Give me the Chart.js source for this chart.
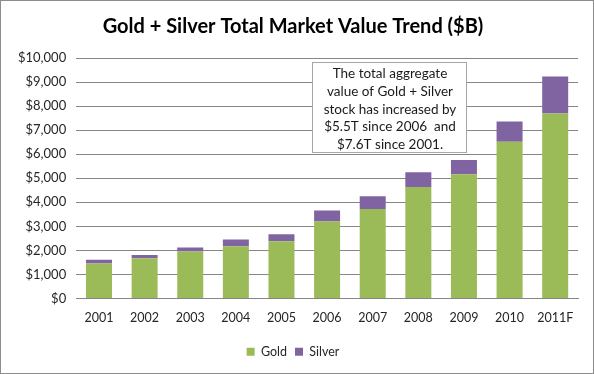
<!DOCTYPE html>
<html>
<head>
<meta charset="utf-8">
<script src="https://cdn.jsdelivr.net/npm/chart.js@4/dist/chart.umd.min.js"></script>
<style>
  html, body { margin: 0; padding: 0; background: #fff; }
  #wrap { width: 594px; height: 374px; }
</style>
</head>
<body>
<div id="wrap"><canvas id="marketChart" width="594" height="374"></canvas></div>
<script>
// values in $B
const years = ['2001', '2002', '2003', '2004', '2005', '2006', '2007', '2008', '2009', '2010', '2011F'];
const goldValues = [1460, 1670, 1950, 2170, 2380, 3200, 3720, 4640, 5170, 6520, 7690];
const silverValues = [150, 140, 170, 280, 290, 460, 530, 610, 585, 840, 1545];
const yTicks = [0, 1000, 2000, 3000, 4000, 5000, 6000, 7000, 8000, 9000, 10000];
const noteLines = [
  'The total aggregate',
  'value of Gold + Silver',
  'stock has increased by',
  '$5.5T since 2006  and',
  '$7.6T since 2001.'
];

const FONT = 'Lato, "Open Sans", sans-serif';

// text box in the upper middle of the plot, plus the outer chart border
const notePlugin = {
  id: 'noteBox',
  afterDraw(chart) {
    const ctx = chart.ctx;
    const x = 312, y = 62, w = 154, h = 90;
    ctx.save();
    ctx.fillStyle = '#fff';
    ctx.fillRect(x, y, w, h);
    ctx.strokeStyle = '#a6a6a6';
    ctx.lineWidth = 1;
    ctx.strokeRect(x + 0.5, y + 0.5, w, h);
    ctx.fillStyle = '#1a1a1a';
    ctx.font = '13.5px ' + FONT;
    ctx.textAlign = 'center';
    ctx.textBaseline = 'middle';
    noteLines.forEach((line, i) => {
      ctx.fillText(line, x + w / 2 + 1, y + 12 + i * 17.6);
    });
    ctx.strokeStyle = '#8c8c8c';
    ctx.strokeRect(0.5, 0.5, chart.width - 1, chart.height - 1);
    ctx.restore();
  }
};

const ctx = document.getElementById('marketChart').getContext('2d');
new Chart(ctx, {
  type: 'bar',
  data: {
    labels: years,
    datasets: [
      {
        label: 'Gold',
        data: goldValues,
        backgroundColor: '#9bbb59',
        categoryPercentage: 1,
        barPercentage: 0.57
      },
      {
        label: 'Silver',
        data: silverValues,
        backgroundColor: '#8064a2',
        categoryPercentage: 1,
        barPercentage: 0.57
      }
    ]
  },
  options: {
    responsive: false,
    animation: false,
    layout: {
      padding: { left: 8, right: 16, top: 0, bottom: 6 }
    },
    scales: {
      x: {
        stacked: true,
        grid: { display: false, drawTicks: false },
        border: { color: '#868686' },
        ticks: {
          color: '#262626',
          padding: 12,
          font: { family: FONT, size: 12.5 }
        }
      },
      y: {
        stacked: true,
        min: 0,
        max: 10000,
        afterBuildTicks(axis) {
          axis.ticks = yTicks.map(v => ({ value: v }));
        },
        grid: { color: '#868686', drawTicks: false },
        border: { display: false },
        ticks: {
          color: '#262626',
          padding: 10,
          font: { family: FONT, size: 13 },
          callback: v => '$' + v.toLocaleString('en-US')
        }
      }
    },
    plugins: {
      title: {
        display: true,
        text: 'Gold + Silver Total Market Value Trend ($B)',
        color: '#000',
        font: { family: FONT, size: 20, weight: 'bold' },
        padding: { top: 15, bottom: 19 }
      },
      legend: {
        position: 'bottom',
        labels: {
          color: '#262626',
          boxWidth: 8,
          boxHeight: 8,
          padding: 8,
          font: { family: FONT, size: 12.5 }
        }
      },
      tooltip: { enabled: false }
    }
  },
  plugins: [notePlugin]
});
</script>
</body>
</html>
